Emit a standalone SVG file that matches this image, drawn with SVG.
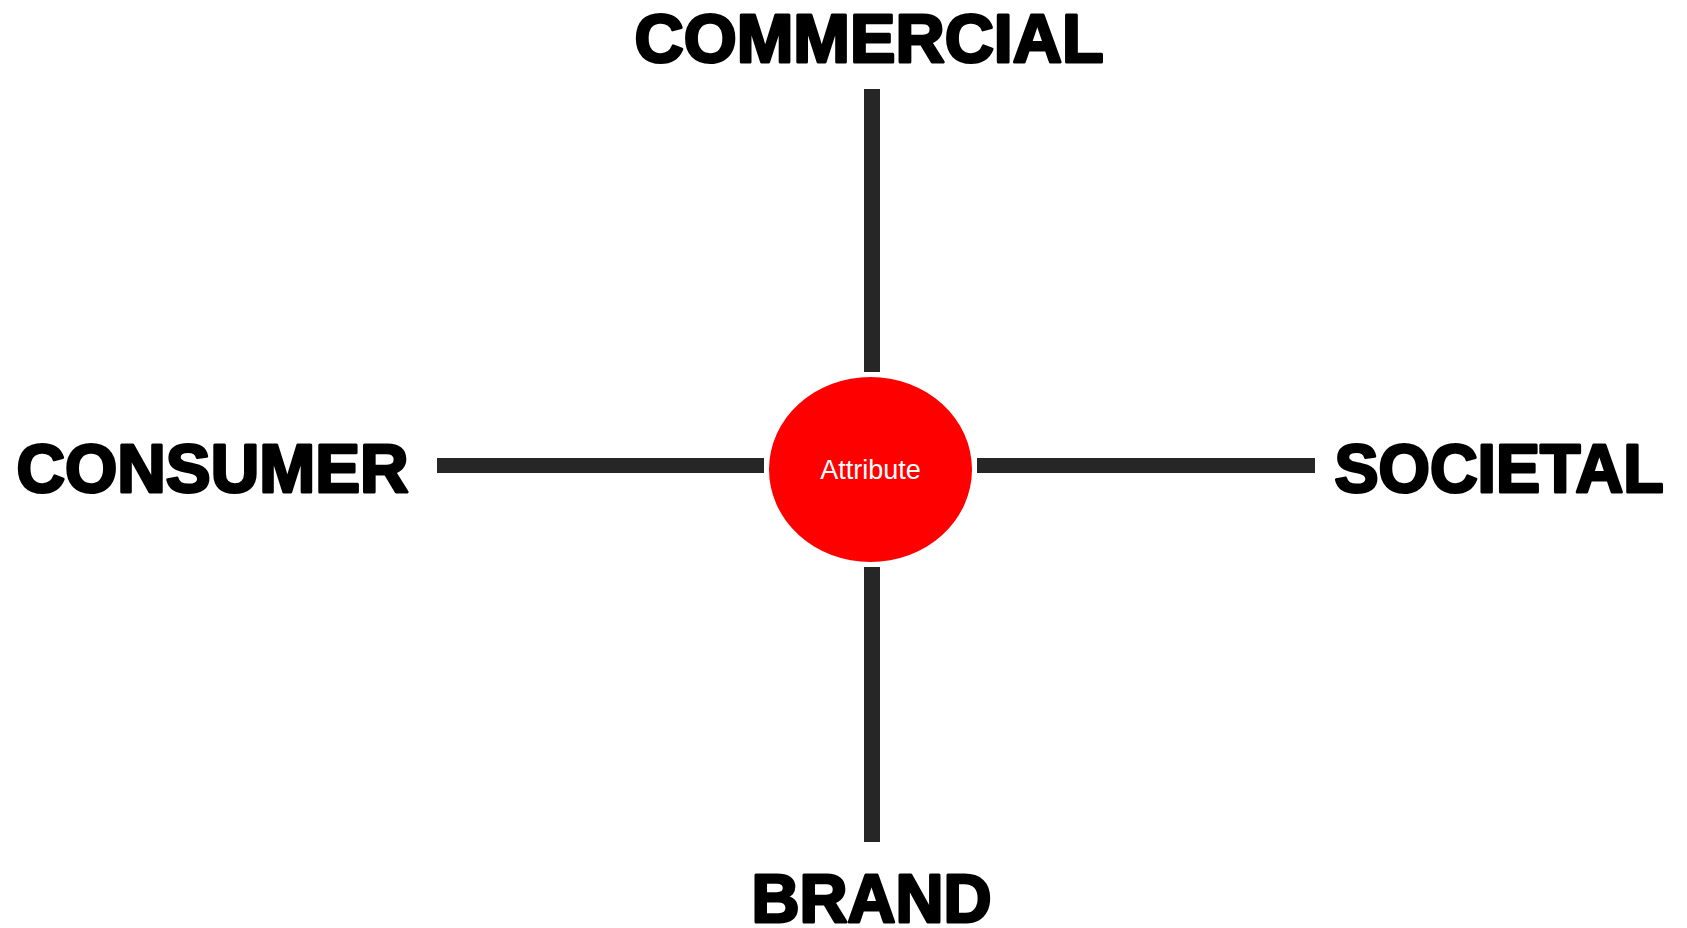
<svg xmlns="http://www.w3.org/2000/svg" width="1687" height="928" viewBox="0 0 1687 928">
<style>
.lbl{font-family:"Liberation Sans",Arial,sans-serif;font-weight:bold;font-size:68px;fill:#000;stroke:#000;stroke-width:3;stroke-linejoin:round}
.ln{fill:#262626}
.attr{font-family:"Liberation Sans",Arial,sans-serif;font-size:27px;fill:#fff}
</style>
<rect width="1687" height="928" fill="#fff"/>
<g id="connectors">
<rect class="ln" x="864" y="89" width="16" height="283"/>
<rect class="ln" x="864" y="567" width="16" height="275"/>
<rect class="ln" x="437" y="458" width="327" height="15"/>
<rect class="ln" x="977" y="458" width="338" height="15"/>
</g>
<g id="attribute">
<ellipse cx="870.5" cy="469.5" rx="101.5" ry="92.5" fill="#ff0000"/>
<text class="attr" x="870.5" y="479" text-anchor="middle">Attribute</text>
</g>
<g id="commercial">
<text class="lbl" x="634.5" y="62" textLength="469" lengthAdjust="spacingAndGlyphs">COMMERCIAL</text>
</g>
<g id="consumer">
<text class="lbl" x="16.5" y="492" textLength="392" lengthAdjust="spacingAndGlyphs">CONSUMER</text>
</g>
<g id="societal">
<text class="lbl" x="1334.5" y="492" textLength="329" lengthAdjust="spacingAndGlyphs">SOCIETAL</text>
</g>
<g id="brand">
<text class="lbl" x="751.5" y="921.5" textLength="240" lengthAdjust="spacingAndGlyphs">BRAND</text>
</g>
</svg>
